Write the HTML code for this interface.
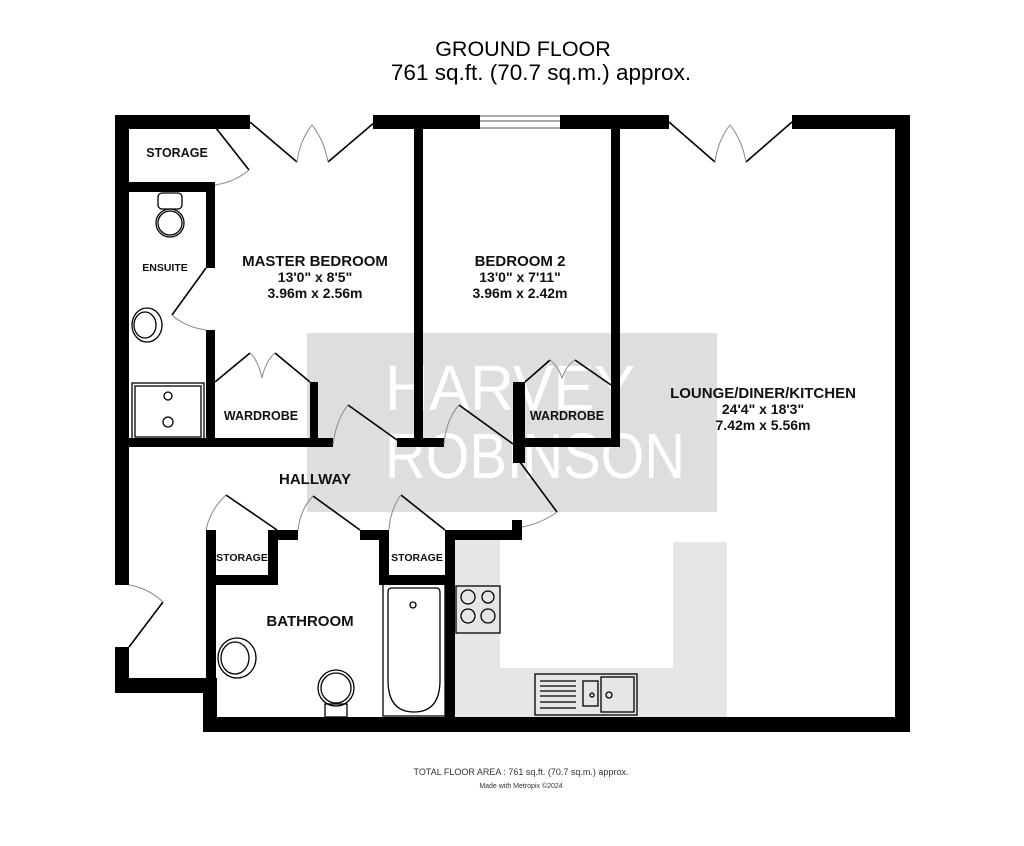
<!DOCTYPE html>
<html><head><meta charset="utf-8"><style>
html,body{margin:0;padding:0;background:#fff;width:1024px;height:846px;overflow:hidden}
svg{display:block}
text{font-family:"Liberation Sans",sans-serif}
</style></head><body>
<svg width="1024" height="846" viewBox="0 0 1024 846">
<rect width="1024" height="846" fill="#fff"/>
<text x="523" y="56" font-size="21.5" text-anchor="middle">GROUND FLOOR</text>
<text x="541" y="80" font-size="22.5" text-anchor="middle">761 sq.ft. (70.7 sq.m.) approx.</text>

<!-- watermark -->
<rect x="307" y="333" width="410" height="179" fill="#dedede"/>
<!-- kitchen counters -->
<g fill="#e6e6e6">
<rect x="455" y="540" width="45" height="177"/>
<rect x="455" y="668" width="272" height="49"/>
<rect x="673" y="542" width="54" height="175"/>
</g>
<text x="385" y="410" font-size="64" fill="#fff" textLength="250" lengthAdjust="spacingAndGlyphs">HARVEY</text>
<text x="385" y="478" font-size="64" fill="#fff" textLength="300" lengthAdjust="spacingAndGlyphs">ROBINSON</text>

<!-- walls -->
<g fill="#000">
<rect x="115" y="115" width="135" height="14"/>
<rect x="373" y="115" width="107" height="14"/>
<rect x="560" y="115" width="109" height="14"/>
<rect x="792" y="115" width="118" height="14"/>
<rect x="895" y="115" width="15" height="617"/>
<rect x="115" y="115" width="14" height="470"/>
<rect x="115" y="647" width="14" height="46"/>
<rect x="115" y="678" width="102" height="15"/>
<rect x="203" y="678" width="14" height="54"/>
<rect x="203" y="717" width="707" height="15"/>
<rect x="206" y="530" width="10" height="160"/>
<rect x="414" y="129" width="9" height="318"/>
<rect x="611" y="129" width="9" height="318"/>
<rect x="129" y="182" width="86" height="10"/>
<rect x="206" y="182" width="9" height="86"/>
<rect x="206" y="330" width="9" height="117"/>
<rect x="129" y="438" width="204" height="9"/>
<rect x="310" y="382" width="8" height="65"/>
<rect x="397" y="438" width="47" height="9"/>
<rect x="513" y="438" width="107" height="9"/>
<rect x="513" y="382" width="12" height="81"/>
<rect x="206" y="575" width="72" height="10"/>
<rect x="268" y="530" width="10" height="55"/>
<rect x="268" y="530" width="30" height="10"/>
<rect x="360" y="530" width="29" height="10"/>
<rect x="379" y="530" width="10" height="55"/>
<rect x="379" y="575" width="76" height="10"/>
<rect x="445" y="530" width="10" height="190"/>
<rect x="445" y="530" width="77" height="10"/>
<rect x="512" y="520" width="10" height="20"/>
</g>
<g stroke="#555" stroke-width="1"><line x1="480" y1="116" x2="560" y2="116"/><line x1="480" y1="121" x2="560" y2="121"/><line x1="480" y1="128" x2="560" y2="128"/></g>

<!-- doors -->
<g stroke="#000" stroke-width="1.6" fill="none">
<line x1="250" y1="122" x2="297" y2="162"/><line x1="375" y1="122" x2="328" y2="162"/>
<line x1="669" y1="122" x2="715" y2="162"/><line x1="792" y1="122" x2="746" y2="162"/>
<line x1="216" y1="128" x2="249" y2="170"/>
<line x1="206" y1="268" x2="172" y2="315"/>
<line x1="215" y1="382" x2="250" y2="353"/><line x1="310" y1="382" x2="275" y2="353"/>
<line x1="397" y1="440" x2="348" y2="405"/>
<line x1="513" y1="444" x2="459" y2="405"/>
<line x1="525" y1="382" x2="550" y2="360"/><line x1="611" y1="385" x2="575" y2="360"/>
<line x1="517" y1="458" x2="557" y2="512"/>
<line x1="277" y1="530" x2="226" y2="495"/>
<line x1="360" y1="530" x2="313" y2="496"/>
<line x1="445" y1="530" x2="401" y2="495"/>
<line x1="129" y1="647" x2="163" y2="602"/>
</g>
<g stroke="#888" stroke-width="1" fill="none">
<path d="M297 162 Q300 140 312 125 Q324 140 328 162"/>
<path d="M715 162 Q718 140 730 125 Q742 140 746 162"/>
<path d="M249 170 Q235 182 215 185"/>
<path d="M172 315 Q185 327 206 330"/>
<path d="M250 353 Q258 360 262 378 Q266 360 275 353"/>
<path d="M550 360 Q558 366 562 378 Q566 366 575 360"/>
<path d="M348 405 Q336 420 333 445"/>
<path d="M459 405 Q446 420 444 444"/>
<path d="M557 512 Q540 524 522 527"/>
<path d="M226 495 Q210 510 206 530"/>
<path d="M313 496 Q300 510 298 530"/>
<path d="M401 495 Q390 510 389 530"/>
<path d="M163 602 Q148 588 129 585"/>
</g>

<!-- fixtures -->
<g stroke="#000" stroke-width="1.3" fill="none">
<circle cx="170" cy="223" r="14"/><circle cx="170" cy="223" r="12"/><rect x="158" y="193" width="24" height="16" rx="4"/>
<ellipse cx="147" cy="325" rx="15" ry="17"/><ellipse cx="145" cy="325" rx="11" ry="13"/>
<rect x="132" y="383" width="72" height="57"/><rect x="135" y="386" width="66" height="51"/>
<circle cx="168" cy="396" r="4"/><circle cx="168" cy="422" r="5"/>
<ellipse cx="237" cy="658" rx="19" ry="20"/><ellipse cx="235" cy="658" rx="14" ry="16"/>
<circle cx="336" cy="688" r="18"/><circle cx="336" cy="688" r="15"/><rect x="325" y="704" width="22" height="13"/>
<rect x="383" y="584" width="62" height="132"/>
<path d="M388 592 Q388 588 392 588 L436 588 Q440 588 440 592 L440 680 Q440 712 414 712 Q388 712 388 680 Z"/>
<circle cx="413" cy="605" r="3"/>
<rect x="456" y="586" width="44" height="47"/>
<circle cx="468" cy="597" r="7"/><circle cx="488" cy="597" r="6"/><circle cx="468" cy="616" r="7"/><circle cx="488" cy="616" r="7"/>
<rect x="535" y="674" width="102" height="41"/><rect x="583" y="681" width="15" height="25"/><rect x="601" y="677" width="33" height="35"/>
<circle cx="609" cy="695" r="3"/><circle cx="592" cy="695" r="2"/>
</g>
<g stroke="#000" stroke-width="1.2"><line x1="540" y1="681" x2="576" y2="681"/><line x1="540" y1="686" x2="576" y2="686"/><line x1="540" y1="691" x2="576" y2="691"/><line x1="540" y1="696" x2="576" y2="696"/><line x1="540" y1="702" x2="576" y2="702"/><line x1="540" y1="708" x2="576" y2="708"/></g>

<!-- labels -->
<g font-weight="bold" text-anchor="middle" fill="#111">
<text x="177" y="157" font-size="12.5">STORAGE</text>
<text x="165" y="271" font-size="10.5">ENSUITE</text>
<text x="315" y="266" font-size="15">MASTER BEDROOM</text>
<text x="315" y="282" font-size="14">13'0"  x 8'5"</text>
<text x="315" y="298" font-size="14">3.96m  x 2.56m</text>
<text x="520" y="266" font-size="15">BEDROOM 2</text>
<text x="520" y="282" font-size="14">13'0"  x 7'11"</text>
<text x="520" y="298" font-size="14">3.96m  x 2.42m</text>
<text x="261" y="420" font-size="12.5">WARDROBE</text>
<text x="567" y="420" font-size="12.5">WARDROBE</text>
<text x="763" y="398" font-size="15">LOUNGE/DINER/KITCHEN</text>
<text x="763" y="414" font-size="14">24'4"  x 18'3"</text>
<text x="763" y="430" font-size="14">7.42m  x 5.56m</text>
<text x="315" y="484" font-size="15">HALLWAY</text>
<text x="242" y="561" font-size="10.5">STORAGE</text>
<text x="417" y="561" font-size="10.5">STORAGE</text>
<text x="310" y="626" font-size="15">BATHROOM</text>
</g>
<text x="521" y="775" font-size="9" text-anchor="middle" fill="#333">TOTAL FLOOR AREA : 761 sq.ft. (70.7 sq.m.) approx.</text>
<text x="521" y="788" font-size="7" text-anchor="middle" fill="#333">Made with Metropix ©2024</text>
</svg>
</body></html>
